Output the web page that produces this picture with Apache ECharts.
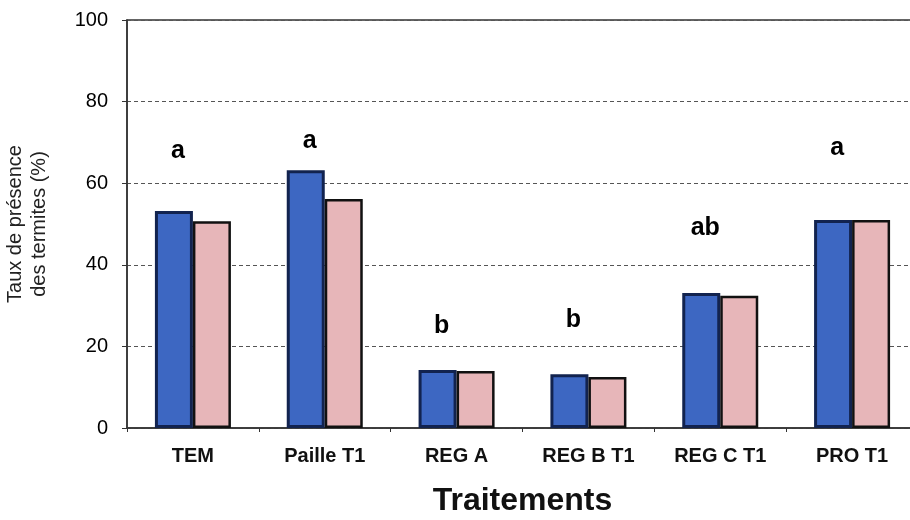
<!DOCTYPE html>
<html><head><meta charset="utf-8">
<script src="https://cdn.jsdelivr.net/npm/echarts@6/dist/echarts.min.js"></script>
<style>html,body{margin:0;padding:0;background:#fff}#c{width:910px;height:520px}</style>
</head><body><div id="c"></div>
<script>
const categories = ['TEM', 'Paille T1', 'REG A', 'REG B T1', 'REG C T1', 'PRO T1'];
const seriesBlue = [53.2, 63.2, 14.2, 13.2, 33.1, 51.0];
const seriesPink = [50.7, 56.1, 14.0, 12.5, 32.4, 51.0];
const letters = ['a', 'a', 'b', 'b', 'ab', 'a'];
const letterHeights = [67.9, 70.3, 25.0, 26.5, 49.0, 68.6];
const yTicks = [0, 20, 40, 60, 80, 100];

const font = "'Liberation Sans', Arial, sans-serif";
const chart = echarts.init(document.getElementById('c'), null, {renderer: 'canvas'});
chart.setOption({
  animation: false,
  grid: {left: 127, top: 20, width: 791, height: 408, show: true, borderColor: '#333', borderWidth: 1.5,
         backgroundColor: 'transparent', containLabel: false, outerBoundsMode: 'none'},
  xAxis: {
    type: 'category', data: categories,
    axisLine: {lineStyle: {color: '#333', width: 1.5}},
    axisTick: {show: true, length: 4, lineStyle: {color: '#333'}},
    axisLabel: {color: '#111', fontFamily: font, fontWeight: 'bold', fontSize: 20, margin: 18},
    name: 'Traitements', nameLocation: 'middle', nameGap: 57,
    nameTextStyle: {color: '#111', fontFamily: font, fontWeight: 'bold', fontSize: 32}
  },
  yAxis: {
    type: 'value', min: 0, max: 100, interval: 20,
    axisLine: {show: true, lineStyle: {color: '#333', width: 1.5}},
    axisTick: {show: true, length: 5, lineStyle: {color: '#333'}},
    axisLabel: {color: '#000', fontFamily: font, fontSize: 20, margin: 19,
      formatter: v => yTicks.includes(v) ? String(v) : ''},
    splitLine: {show: true, lineStyle: {color: '#555', type: [4, 3], width: 1}},
    name: 'Taux de présence\ndes termites (%)', nameLocation: 'middle', nameGap: 76, nameRotate: 90,
    nameTextStyle: {color: '#222', fontFamily: font, fontSize: 20, lineHeight: 24}
  },
  series: [
    {type: 'bar', data: seriesBlue, barWidth: 38, barGap: '0%',
     itemStyle: {color: '#3d67c2', borderColor: '#12234f', borderWidth: 3}},
    {type: 'bar', data: seriesPink, barWidth: 38,
     itemStyle: {color: '#e7b6b9', borderColor: '#111', borderWidth: 2.5}},
    {type: 'scatter', data: letterHeights, symbolSize: 0, silent: true, itemStyle: {opacity: 1},
     label: {show: true, position: 'inside', offset: [-15, 0], color: '#000', opacity: 1, fontFamily: font, fontWeight: 'bold', fontSize: 25,
       formatter: p => letters[p.dataIndex]}}
  ]
});
</script></body></html>
